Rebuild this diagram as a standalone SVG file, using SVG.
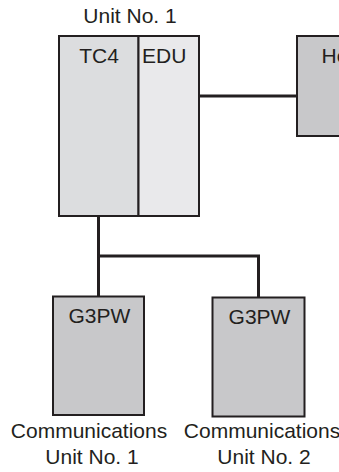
<svg xmlns="http://www.w3.org/2000/svg" width="339" height="472" viewBox="0 0 339 472">
<style>
.box{stroke:#231f20;stroke-width:2}
.t{font-family:"Liberation Sans",Arial,sans-serif;font-size:21px;fill:#231f20}
.m{text-anchor:middle}
.c{fill:none;stroke:#231f20;stroke-width:3}
</style>
<rect width="339" height="472" fill="#ffffff"/>
<g id="connectors">
<path class="c" d="M199,96 H297"/>
<path class="c" d="M98.5,216 V296"/>
<path class="c" d="M97,256 H258.5 V297"/>
</g>
<g id="unit1">
<text class="t m" x="130" y="22.7">Unit No. 1</text>
<rect class="box" x="59" y="36" width="79.5" height="180" fill="#dcdddf"/>
<rect class="box" x="138.5" y="36" width="60.5" height="180" fill="#e9e9eb"/>
<text class="t m" x="99" y="62.7">TC4</text>
<text class="t" x="142" y="62.7">EDU</text>
</g>
<g id="host">
<rect class="box" x="297" y="36" width="60" height="100" fill="#c8c8ca"/>
<text class="t" x="321.5" y="62.7">Host</text>
</g>
<g id="comm1">
<rect class="box" x="53" y="296.5" width="91" height="118.5" fill="#c8c8ca"/>
<text class="t m" x="99.3" y="323">G3PW</text>
<text class="t m" x="89" y="438">Communications</text>
<text class="t m" x="92" y="464">Unit No. 1</text>
</g>
<g id="comm2">
<rect class="box" x="212.5" y="297.5" width="92" height="119" fill="#c8c8ca"/>
<text class="t m" x="259.5" y="323.5">G3PW</text>
<text class="t m" x="262" y="438">Communications</text>
<text class="t m" x="264" y="464">Unit No. 2</text>
</g>
</svg>
